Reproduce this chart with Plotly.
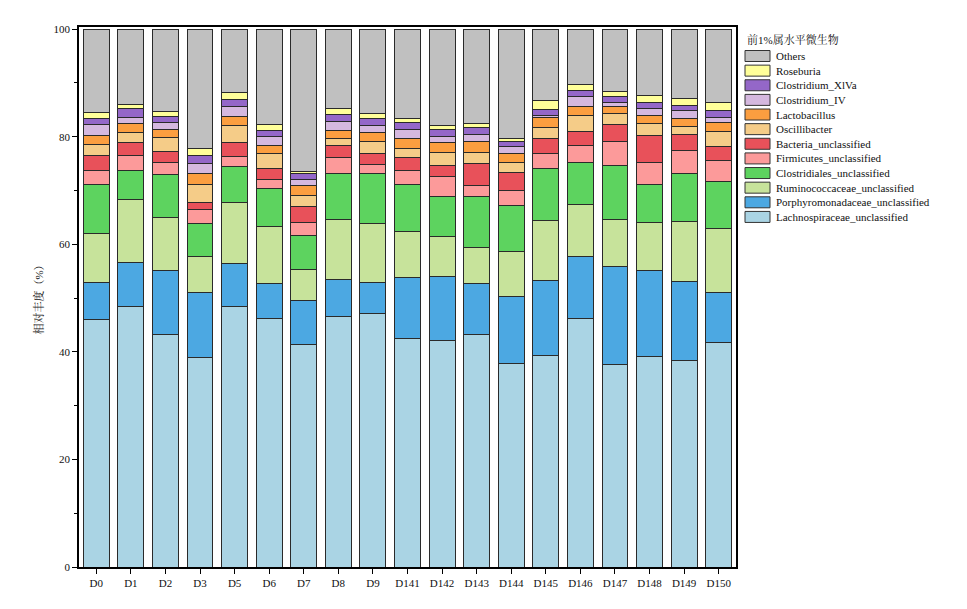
import plotly.graph_objects as go

samples = ["D0","D1","D2","D3","D5","D6","D7","D8","D9","D141","D142","D143",
           "D144","D145","D146","D147","D148","D149","D150"]

# stacking order: bottom -> top
lachnospiraceae = [46.0,48.5,43.3,38.9,48.5,46.2,41.4,46.6,47.1,42.5,42.1,43.3,37.9,39.3,46.2,37.6,39.1,38.4,41.8]
porphyromonadaceae = [6.9,8.2,11.8,12.1,7.9,6.5,8.2,6.8,5.8,11.3,11.9,9.4,12.4,13.9,11.6,18.3,16.0,14.6,9.3]
ruminococcaceae = [9.1,11.6,9.9,6.8,11.3,10.7,5.7,11.3,11.0,8.5,7.4,6.7,8.4,11.2,9.6,8.8,9.0,11.3,11.9]
clostridiales = [9.1,5.4,7.9,6.0,6.8,7.0,6.3,8.5,9.3,8.9,7.5,9.5,8.5,9.6,7.9,9.9,7.1,8.8,8.6]
firmicutes = [2.6,2.8,2.4,2.6,1.8,1.7,2.4,2.9,1.6,2.5,3.7,2.0,2.8,2.8,3.0,4.5,4.1,4.4,3.9]
bacteria = [2.8,2.4,2.0,1.4,2.6,2.0,3.1,2.3,2.1,2.4,2.0,4.1,3.4,2.8,2.7,3.1,4.9,2.9,2.7]
oscillibacter = [2.1,1.8,2.5,3.3,3.1,2.8,1.9,1.2,2.2,1.8,2.4,2.0,1.8,2.2,3.0,2.2,2.3,1.5,2.7]
lactobacillus = [1.6,1.8,1.5,2.0,1.8,1.5,2.0,1.6,1.6,1.8,1.9,2.1,1.7,1.7,1.7,1.3,1.5,1.5,1.7]
clostridium_iv = [2.1,1.1,1.3,1.9,1.8,1.6,1.1,1.7,1.4,1.6,1.1,1.3,1.2,0.5,1.7,0.7,1.3,1.5,1.0]
clostridium_xlva = [1.1,1.7,1.1,1.5,1.3,1.2,1.1,1.2,1.2,1.4,1.4,1.3,1.1,1.1,1.2,1.1,1.1,0.9,1.2]
roseburia = [1.1,0.7,1.0,1.3,1.3,1.1,0.3,1.2,1.0,0.6,0.6,0.8,0.5,1.7,1.1,0.9,1.3,1.4,1.5]

series_names = ["Lachnospiraceae_unclassified","Porphyromonadaceae_unclassified",
                "Ruminococcaceae_unclassified","Clostridiales_unclassified",
                "Firmicutes_unclassified","Bacteria_unclassified","Oscillibacter",
                "Lactobacillus","Clostridium_IV","Clostridium_XlVa","Roseburia","Others"]
series_values = [lachnospiraceae, porphyromonadaceae, ruminococcaceae, clostridiales,
                 firmicutes, bacteria, oscillibacter, lactobacillus, clostridium_iv,
                 clostridium_xlva, roseburia]
others = [round(100 - sum(v[i] for v in series_values), 2) for i in range(len(samples))]
series_values = series_values + [others]

colors = ["#AAD4E4","#4CA8E2","#C7E39B","#5DD35F","#FC9A9A","#E8515A","#F5CC88",
          "#FB9E40","#D5B8DF","#9467C8","#FFFF99","#C0C0C0"]

legend_title = "前1%属水平微生物"
y_title = "相对丰度（%）"

serif = "Liberation Serif, 'Times New Roman', 'Noto Serif CJK SC', 'Noto Sans CJK SC', serif"

fig = go.Figure()
for name, vals, col in zip(series_names, series_values, colors):
    fig.add_trace(go.Bar(x=samples, y=vals, name=name, marker_color=col,
                         marker_line=dict(color="#2a2a2a", width=1), showlegend=False))

# plot area on screen: x 79..736, y 27..567 (page has an 8px body margin)
PX0, PX1, PY0, PY1 = 79, 736, 27, 567
def px(sx):
    return (sx - PX0) / (PX1 - PX0)
def py(sy):
    return (PY1 - sy) / (PY1 - PY0)

# custom legend (compact spacing like the reference)
top_y = 56
step = 14.63
for i, (name, col) in enumerate(zip(series_names[::-1], colors[::-1])):
    yc = top_y + i * step
    fig.add_shape(type="rect", xref="paper", yref="paper",
                  x0=px(745), x1=px(770), y0=py(yc + 5.5), y1=py(yc - 5.5),
                  fillcolor=col, line=dict(color="#333333", width=1))
    fig.add_annotation(xref="paper", yref="paper", x=px(774), y=py(yc),
                       text=name, showarrow=False, xanchor="left", yanchor="middle",
                       font=dict(family=serif, size=11, color="#111"))
fig.add_annotation(xref="paper", yref="paper", x=px(745), y=py(40),
                   text=legend_title, showarrow=False, xanchor="left", yanchor="middle",
                   font=dict(family=serif, size=11, color="#111"))

W, H = 959, 601
fig.update_layout(
    width=W, height=H,
    margin=dict(l=PX0 - 8, r=W - (PX1 - 8), t=PY0 - 8, b=H - (PY1 - 8)),
    paper_bgcolor="white", plot_bgcolor="white",
    barmode="stack", bargap=0.25,
    font=dict(family=serif, size=11, color="#111"),
)
fig.update_xaxes(showline=True, linecolor="black", linewidth=1.5, mirror=True,
                 ticks="outside", ticklen=5, tickcolor="black", showgrid=False,
                 tickfont=dict(family=serif, size=11, color="#111"))
fig.update_yaxes(range=[0, 100.4], showline=True, linecolor="black", linewidth=1.5,
                 mirror=True, ticks="outside", ticklen=5, tickcolor="black",
                 tickvals=[0, 20, 40, 60, 80, 100], showgrid=False, zeroline=False,
                 minor=dict(tickvals=[10, 30, 50, 70, 90], ticks="outside", ticklen=3,
                            tickcolor="black"),
                 title=dict(text=y_title, font=dict(family=serif, size=11, color="#111"),
                            standoff=8),
                 tickfont=dict(family=serif, size=11, color="#111"))

fig.write_html("out.html")
